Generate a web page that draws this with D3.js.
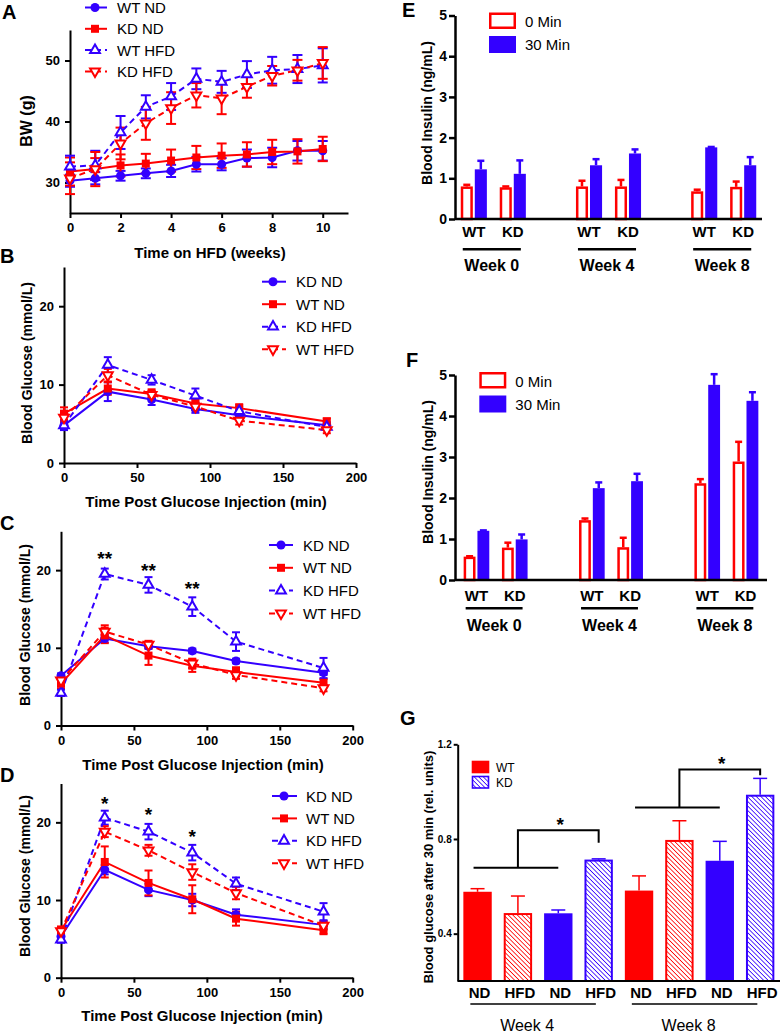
<!DOCTYPE html>
<html><head><meta charset="utf-8">
<script src="https://cdn.jsdelivr.net/npm/d3@7"></script>
<style>
body{margin:0;background:#fff;}
text{font-family:Arial,"Liberation Sans",Helvetica,sans-serif;}
</style></head><body>
<svg id="fig" width="782" height="1033" xmlns="http://www.w3.org/2000/svg"></svg>
<script>
// ---------------- DATA ----------------
// Panel A: body weight (g) vs weeks on HFD
const weeksA = [0,1,2,3,4,5,6,7,8,9,10];
const aWTND     = [30.3,30.7,31.1,31.5,31.9,33.0,33.0,34.0,34.1,35.2,35.2];
const aWTNDErr  = [1.0,1.0,0.8,0.8,1.0,1.2,1.0,1.4,1.6,1.6,1.6];
const aKDND     = [31.8,32.2,32.8,33.1,33.6,34.1,34.4,34.6,35.0,35.1,35.5];
const aKDNDErr  = [2.3,1.8,1.8,1.6,1.8,1.9,2.0,2.0,2.0,2.0,2.0];
const aWTHFD    = [32.6,32.8,38.2,42.4,44.1,47.0,46.5,47.7,48.4,48.6,49.2];
const aWTHFDErr = [1.8,2.4,2.7,1.9,2.2,1.7,1.8,2.2,2.2,2.3,2.8];
const aKDHFD    = [30.7,32.2,36.4,39.7,42.2,44.3,43.8,45.7,47.5,48.4,49.6];
const aKDHFDErr = [2.6,2.8,2.6,2.7,2.6,2.0,2.6,1.8,1.6,1.7,2.6];
const aXTicks = [0,2,4,6,8,10];
const aYTicks = [30,40,50];

// Panels B-D: GTT, blood glucose (mmol/L)
const gttTimes = [0,30,60,90,120,180];
const gttXTicks = [0,50,100,150,200];
const gttYTicks = [0,10,20];

const bKDND = [4.8,9.1,8.1,6.9,6.1,4.8],   bKDNDErr = [0.6,1.2,0.7,0.5,0.6,0.4];
const bWTND = [6.3,9.5,8.8,7.6,7.0,5.3],   bWTNDErr = [0.8,0.8,0.6,0.5,0.5,0.4];
const bKDHFD = [4.8,12.5,10.6,8.6,6.6,4.6], bKDHFDErr = [0.5,1.0,0.6,0.9,0.6,0.4];
const bWTHFD = [5.8,11.2,8.7,7.2,5.4,4.2],  bWTHFDErr = [0.6,0.8,0.5,0.5,0.5,0.4];

const cKDND = [6.4,11.2,10.2,9.6,8.3,6.8],   cKDNDErr = [0.3,0.5,0.3,0.3,0.3,0.3];
const cWTND = [5.4,11.6,9.0,7.7,6.9,5.5],    cWTNDErr = [0.6,1.0,1.2,0.8,0.6,0.5];
const cKDHFD = [4.2,19.5,18.1,15.3,10.8,7.4], cKDHFDErr = [0.4,0.7,1.0,1.2,1.2,1.3];
const cWTHFD = [5.8,12.1,10.4,8.0,6.5,4.8],  cWTHFDErr = [0.5,0.8,0.5,0.6,0.5,0.4];
const cStarTimes = [30,60,90], cStarLevels = [21.9,20.4,18.1], cStarLabel = "**";

const dKDND = [5.3,13.9,11.3,10.0,8.1,6.8],   dKDNDErr = [0.4,0.6,0.8,0.8,0.7,0.5];
const dWTND = [6.1,14.9,12.2,10.1,7.6,6.1],   dWTNDErr = [0.5,2.0,1.6,1.8,0.9,0.5];
const dKDHFD = [4.9,20.6,18.8,16.1,12.1,8.5], dKDHFDErr = [0.4,0.9,1.0,1.0,0.8,1.1];
const dWTHFD = [6.0,18.8,16.4,13.6,10.9,6.7], dWTHFDErr = [0.4,0.7,0.7,1.0,0.8,0.5];
const dStarTimes = [30,60,90], dStarLevels = [22.9,21.4,18.6], dStarLabel = "*";

// Panels E-F: blood insulin (ng/mL)
const insWeeks = ["Week 0","Week 4","Week 8"];
const insGenos = ["WT","KD"];
const insTimes = ["0 Min","30 Min"];
const insYTicks = [0,1,2,3,4,5];
// order: wk0 WT, wk0 KD, wk4 WT, wk4 KD, wk8 WT, wk8 KD
const e0Min = [0.80,0.78,0.80,0.80,0.68,0.79], e0MinErr = [0.04,0.02,0.14,0.16,0.04,0.13];
const e30Min = [1.22,1.11,1.32,1.61,1.76,1.32], e30MinErr = [0.21,0.33,0.15,0.10,0.01,0.20];
const f0Min = [0.57,0.79,1.46,0.80,2.36,2.89], f0MinErr = [0.01,0.12,0.04,0.23,0.10,0.48];
const f30Min = [1.20,0.99,2.24,2.41,4.76,4.37], f30MinErr = [0.01,0.12,0.14,0.18,0.26,0.21];

// Panel G: blood glucose after 30 min (rel. units)
const gWeeks = ["Week 4","Week 8"];
const gDiets = ["ND","HFD","ND","HFD","ND","HFD","ND","HFD"];
const gGenos = ["WT","WT","KD","KD","WT","WT","KD","KD"];
const gValues = [0.577,0.487,0.486,0.713,0.582,0.796,0.708,0.987];
const gErr = [0.013,0.072,0.014,0.003,0.062,0.081,0.082,0.069];
const gYTicks = [0.4,0.8,1.2];
// brackets: [from bar, to bar, target bar, low level, high level, drop level]
const gBrackets = [[0,2,3,0.678,0.837,0.784],[4,6,7,0.933,1.094,1.069]];

// ---------------- DRAWING ----------------
const BLUE = "#3300ff", RED = "#ff0000";
const svg = d3.select("#fig");

const defs = svg.append("defs");
function hatch(id, color) {
  const p = defs.append("pattern").attr("id", id).attr("patternUnits","userSpaceOnUse")
    .attr("width", 3.2).attr("height", 3.2).attr("patternTransform","rotate(-45)");
  p.append("rect").attr("width",3.2).attr("height",3.2).attr("fill","#fff");
  p.append("line").attr("x1",0).attr("y1",0).attr("x2",0).attr("y2",3.2)
    .attr("stroke", color).attr("stroke-width",1.6);
}
hatch("hatchRed", RED);
hatch("hatchBlue", BLUE);

function styleAxis(g, sw, fs) {
  g.select(".domain").attr("stroke","#000").attr("stroke-width",sw);
  g.selectAll(".tick line").attr("stroke","#000").attr("stroke-width",sw);
  g.selectAll(".tick text").attr("font-weight","bold").attr("font-size",fs).attr("fill","#000")
    .attr("font-family","Arial, 'Liberation Sans', Helvetica, sans-serif");
}
function label(txt, x, y, opt={}) {
  const t = svg.append("text").attr("x",x).attr("y",y).text(txt)
    .attr("font-size", opt.size||14).attr("font-weight", opt.weight||"bold")
    .attr("text-anchor", opt.anchor||"middle").attr("fill","#000");
  if (opt.rotate) t.attr("transform",`rotate(-90,${x},${y})`);
  if (opt.baseline) t.attr("dominant-baseline", opt.baseline);
  return t;
}
function markerPath(type) {
  if (type==="circle") return d3.symbol(d3.symbolCircle, 64)();
  if (type==="square") return d3.symbol(d3.symbolSquare, 64)();
  return d3.symbol(d3.symbolTriangle, 42)();
}
function drawMarker(g, type, color, x, y) {
  const open = (type==="tri" || type==="itri");
  g.append("path").attr("d", markerPath(type))
    .attr("transform", `translate(${x},${y})` + (type==="itri" ? " rotate(180)" : ""))
    .attr("fill", open ? "#fff" : color).attr("stroke", color).attr("stroke-width", open?2:0);
}

function linePanel(p) {
  const x = d3.scaleLinear().domain(p.xDomain).range(p.xRange);
  const y = d3.scaleLinear().domain(p.yDomain).range(p.yRange);
  const g = svg.append("g");
  const gx = g.append("g").attr("transform",`translate(0,${p.yRange[0]})`)
    .call(d3.axisBottom(x).tickValues(p.xTicks).tickSize(5).tickSizeOuter(0).tickPadding(5));
  styleAxis(gx, 2, 13);
  const gy = g.append("g").attr("transform",`translate(${p.xRange[0]},0)`)
    .call(d3.axisLeft(y).tickValues(p.yTicks).tickSize(5).tickSizeOuter(0).tickPadding(5));
  styleAxis(gy, 2, 13);

  const cap = p.cap || 5;
  p.series.forEach(s => {
    s.vals.forEach((v,i) => {
      const e = s.errs[i], cx = x(p.xs[i]);
      g.append("line").attr("x1",cx).attr("x2",cx).attr("y1",y(v-e)).attr("y2",y(v+e))
        .attr("stroke",s.color).attr("stroke-width",2);
      [v-e, v+e].forEach(w => g.append("line").attr("x1",cx-cap).attr("x2",cx+cap)
        .attr("y1",y(w)).attr("y2",y(w)).attr("stroke",s.color).attr("stroke-width",2));
    });
  });
  p.series.forEach(s => {
    const line = d3.line().x((d,i)=>x(p.xs[i])).y(d=>y(d));
    g.append("path").attr("d", line(s.vals)).attr("fill","none").attr("stroke",s.color)
      .attr("stroke-width",2).attr("stroke-dasharray", s.dash ? "6,4" : null);
  });
  p.series.forEach(s => {
    s.vals.forEach((v,i) => drawMarker(g, s.marker, s.color, x(p.xs[i]), y(v)));
  });
  // legend
  p.series.forEach((s,i) => {
    const ly = p.legend.y0 + i*p.legend.dy;
    g.append("line").attr("x1",p.legend.x1).attr("x2",p.legend.x2).attr("y1",ly).attr("y2",ly)
      .attr("stroke",s.color).attr("stroke-width",2).attr("stroke-dasharray", s.dash ? "6,4" : null);
    drawMarker(g, s.marker, s.color, p.legend.xm, ly);
    g.append("text").attr("x",p.legend.xt).attr("y",ly).attr("dominant-baseline","central")
      .attr("font-size",15).attr("fill","#000").text(s.name);
  });
  if (p.stars) {
    p.stars.times.forEach((t,i) => {
      g.append("text").attr("x",x(t)).attr("y",y(p.stars.levels[i])+10).attr("text-anchor","middle")
        .attr("font-size",19).attr("font-weight","bold").text(p.stars.label);
    });
  }
  label(p.xTitle, p.xTitlePos[0], p.xTitlePos[1], {size:15});
  label(p.yTitle, p.yTitlePos[0], p.yTitlePos[1], {size:p.yTitleSize||14, rotate:true, baseline:"central"});
}

// Panel A
linePanel({
  xDomain:[0,11], xRange:[70,348], yDomain:[25,55], yRange:[213,30],
  xTicks:aXTicks, yTicks:aYTicks, xs:weeksA, cap:5,
  series:[
    {name:"WT ND", vals:aWTND, errs:aWTNDErr, color:BLUE, marker:"circle", dash:false},
    {name:"KD ND", vals:aKDND, errs:aKDNDErr, color:RED, marker:"square", dash:false},
    {name:"WT HFD", vals:aWTHFD, errs:aWTHFDErr, color:BLUE, marker:"tri", dash:true},
    {name:"KD HFD", vals:aKDHFD, errs:aKDHFDErr, color:RED, marker:"itri", dash:true}
  ],
  legend:{x1:85, x2:107, xm:95, xt:117, y0:7.5, dy:21.3},
  xTitle:"Time on HFD (weeks)", xTitlePos:[210,258],
  yTitle:"BW (g)", yTitlePos:[26,121], yTitleSize:16
});

function gttSeries(kdnd,kdndE,wtnd,wtndE,kdhfd,kdhfdE,wthfd,wthfdE){
  return [
    {name:"KD ND", vals:kdnd, errs:kdndE, color:BLUE, marker:"circle", dash:false},
    {name:"WT ND", vals:wtnd, errs:wtndE, color:RED, marker:"square", dash:false},
    {name:"KD HFD", vals:kdhfd, errs:kdhfdE, color:BLUE, marker:"tri", dash:true},
    {name:"WT HFD", vals:wthfd, errs:wthfdE, color:RED, marker:"itri", dash:true}
  ];
}
// Panel B
linePanel({
  xDomain:[0,200], xRange:[64,356], yDomain:[0,25], yRange:[463,267],
  xTicks:gttXTicks, yTicks:gttYTicks, xs:gttTimes, cap:4,
  series:gttSeries(bKDND,bKDNDErr,bWTND,bWTNDErr,bKDHFD,bKDHFDErr,bWTHFD,bWTHFDErr),
  legend:{x1:262, x2:286, xm:273, xt:296, y0:281.7, dy:22.5},
  xTitle:"Time Post Glucose Injection (min)", xTitlePos:[206,507],
  yTitle:"Blood Glucose (mmol/L)", yTitlePos:[27,363]
});
// Panel C
linePanel({
  xDomain:[0,200], xRange:[61,352.7], yDomain:[0,25], yRange:[725.5,531.3],
  xTicks:gttXTicks, yTicks:gttYTicks, xs:gttTimes, cap:4,
  series:gttSeries(cKDND,cKDNDErr,cWTND,cWTNDErr,cKDHFD,cKDHFDErr,cWTHFD,cWTHFDErr),
  legend:{x1:269, x2:293, xm:281, xt:303, y0:545, dy:22.8},
  stars:{times:cStarTimes, levels:cStarLevels, label:cStarLabel},
  xTitle:"Time Post Glucose Injection (min)", xTitlePos:[203,770],
  yTitle:"Blood Glucose (mmol/L)", yTitlePos:[25,625]
});
// Panel D
linePanel({
  xDomain:[0,200], xRange:[61,352.7], yDomain:[0,25], yRange:[977.7,783.5],
  xTicks:gttXTicks, yTicks:gttYTicks, xs:gttTimes, cap:4,
  series:gttSeries(dKDND,dKDNDErr,dWTND,dWTNDErr,dKDHFD,dKDHFDErr,dWTHFD,dWTHFDErr),
  legend:{x1:272, x2:297, xm:284, xt:306, y0:796, dy:22.4},
  stars:{times:dStarTimes, levels:dStarLevels, label:dStarLabel},
  xTitle:"Time Post Glucose Injection (min)", xTitlePos:[202,1021],
  yTitle:"Blood Glucose (mmol/L)", yTitlePos:[25,876]
});

// Insulin panels
function insulinPanel(p) {
  const xw = d3.scaleBand().domain(insWeeks).range(p.xRange).paddingInner(p.pin).paddingOuter(p.pout);
  const xg = d3.scaleBand().domain(insGenos).range([0, xw.bandwidth()]).paddingInner(0.33).paddingOuter(0);
  const xt = d3.scaleBand().domain(insTimes).range([0, xg.bandwidth()]).paddingInner(0.14).paddingOuter(0);
  const y = d3.scaleLinear().domain([0,5]).range(p.yRange);
  const g = svg.append("g");
  const rows = [];
  insWeeks.forEach((w,wi) => insGenos.forEach((gn,gi) => {
    const k = wi*2+gi;
    rows.push({w, gn, t:insTimes[0], v:p.v0[k], e:p.e0[k]});
    rows.push({w, gn, t:insTimes[1], v:p.v30[k], e:p.e30[k]});
  }));
  const bx = d => xw(d.w) + xg(d.gn) + xt(d.t);
  const bw = xt.bandwidth();
  rows.forEach(d => {
    const col = d.t===insTimes[0] ? RED : BLUE;
    const cx = bx(d) + bw/2;
    g.append("line").attr("x1",cx).attr("x2",cx).attr("y1",y(d.v)).attr("y2",y(d.v+d.e))
      .attr("stroke",col).attr("stroke-width",2.5);
    g.append("line").attr("x1",cx-3.5).attr("x2",cx+3.5).attr("y1",y(d.v+d.e)).attr("y2",y(d.v+d.e))
      .attr("stroke",col).attr("stroke-width",2.5);
    if (d.t===insTimes[0]) {
      g.append("rect").attr("x",bx(d)+1.25).attr("y",y(d.v)+1.25).attr("width",bw-2.5)
        .attr("height",Math.max(0,y(0)-y(d.v)-1.25)).attr("fill","#fff").attr("stroke",RED).attr("stroke-width",2.5);
    } else {
      g.append("rect").attr("x",bx(d)).attr("y",y(d.v)).attr("width",bw)
        .attr("height",y(0)-y(d.v)).attr("fill",BLUE);
    }
  });
  const gy = g.append("g").attr("transform",`translate(${p.xRange[0]},0)`)
    .call(d3.axisLeft(y).tickValues(insYTicks).tickFormat(d3.format("d")).tickSize(6).tickSizeOuter(0).tickPadding(2));
  styleAxis(gy, 2.5, 14);
  g.append("line").attr("x1",p.xRange[0]).attr("x2",p.xRange[1]).attr("y1",y(0)).attr("y2",y(0))
    .attr("stroke","#000").attr("stroke-width",2.5);
  insWeeks.forEach(w => {
    insGenos.forEach(gn => {
      label(gn, xw(w)+xg(gn)+xg.bandwidth()/2, p.genoY, {size:15});
    });
    const l0 = xw(w)+2, l1 = xw(w)+xw.bandwidth()-5;
    g.append("line").attr("x1",l0).attr("x2",l1).attr("y1",p.lineY).attr("y2",p.lineY)
      .attr("stroke","#000").attr("stroke-width",2.5);
    label(w, (l0+l1)/2, p.weekY, {size:16});
  });
  // legend
  g.append("rect").attr("x",p.leg[0]+1.25).attr("y",p.leg[1]+1.25).attr("width",24.5).attr("height",14)
    .attr("fill","#fff").attr("stroke",RED).attr("stroke-width",2.5);
  g.append("rect").attr("x",p.leg[0]).attr("y",p.leg[1]+23.5).attr("width",27).attr("height",17).attr("fill",BLUE);
  label(insTimes[0], p.leg[0]+36, p.leg[1]+9, {size:15, weight:"normal", anchor:"start", baseline:"central"});
  label(insTimes[1], p.leg[0]+36, p.leg[1]+32, {size:15, weight:"normal", anchor:"start", baseline:"central"});
  label("Blood Insulin (ng/mL)", p.yTitle[0], p.yTitle[1], {size:14, rotate:true, baseline:"central"});
}
insulinPanel({xRange:[455,762], yRange:[219,15.5], pin:0.435, pout:0.05,
  v0:e0Min, e0:e0MinErr, v30:e30Min, e30:e30MinErr,
  genoY:237, lineY:249.3, weekY:271, leg:[489,12.5], yTitle:[427,113]});
insulinPanel({xRange:[455,767], yRange:[580,375], pin:0.446, pout:0.075,
  v0:f0Min, e0:f0MinErr, v30:f30Min, e30:f30MinErr,
  genoY:601, lineY:608.3, weekY:631, leg:[479.3,372], yTitle:[428,472]});

// Panel G
(function(){
  const idx = d3.range(gValues.length);
  const x = d3.scaleBand().domain(idx).range([457.7,780]).paddingInner(0.297).paddingOuter(0.14);
  const y = d3.scaleLinear().domain([0.2,1.2]).range([981,744.3]);
  const g = svg.append("g");
  const bw = x.bandwidth();
  idx.forEach(i => {
    const col = gGenos[i]==="WT" ? RED : BLUE;
    const hatched = gDiets[i]==="HFD";
    const cx = x(i)+bw/2;
    g.append("line").attr("x1",cx).attr("x2",cx).attr("y1",y(gValues[i])).attr("y2",y(gValues[i]+gErr[i]))
      .attr("stroke",col).attr("stroke-width",1.5);
    g.append("line").attr("x1",cx-7).attr("x2",cx+7).attr("y1",y(gValues[i]+gErr[i])).attr("y2",y(gValues[i]+gErr[i]))
      .attr("stroke",col).attr("stroke-width",1.5);
    if (hatched) {
      g.append("rect").attr("x",x(i)+1).attr("y",y(gValues[i])+1).attr("width",bw-2)
        .attr("height",y(0.2)-y(gValues[i])-1)
        .attr("fill", col===RED ? "url(#hatchRed)" : "url(#hatchBlue)").attr("stroke",col).attr("stroke-width",2);
    } else {
      g.append("rect").attr("x",x(i)).attr("y",y(gValues[i])).attr("width",bw)
        .attr("height",y(0.2)-y(gValues[i])).attr("fill",col);
    }
    label(gDiets[i], cx+2, 998, {size:15});
  });
  const gy = g.append("g").attr("transform","translate(457.7,0)")
    .call(d3.axisLeft(y).tickValues(gYTicks).tickFormat(d3.format(".1f")).tickSize(4).tickSizeOuter(0).tickPadding(2));
  styleAxis(gy, 2, 10);
  g.append("line").attr("x1",457.7).attr("x2",780).attr("y1",y(0.2)).attr("y2",y(0.2))
    .attr("stroke","#000").attr("stroke-width",2);
  // brackets
  gBrackets.forEach(b => {
    const xa = x(b[0])+bw/2-4, xb = x(b[1])+bw/2, xm = (x(b[0])+x(b[1]))/2+bw/2, xc = x(b[2])+bw/2;
    g.append("line").attr("x1",xa).attr("x2",xb).attr("y1",y(b[3])).attr("y2",y(b[3])).attr("stroke","#000").attr("stroke-width",2);
    g.append("path").attr("d",`M${xm},${y(b[3])}V${y(b[4])}H${xc}V${y(b[5])}`)
      .attr("fill","none").attr("stroke","#000").attr("stroke-width",2);
    label("*", (xm+xc)/2+2, y(b[4])+1, {size:19});
  });
  // week labels
  gWeeks.forEach((w,wi) => {
    const l0 = x(wi*4)+7, l1 = x(wi*4+3)+bw-17;
    g.append("line").attr("x1",l0).attr("x2",l1).attr("y1",1004).attr("y2",1004)
      .attr("stroke","#000").attr("stroke-width",1.5);
    label(w, (l0+l1)/2-6, 1031, {size:16, weight:"normal"});
  });
  // legend
  g.append("rect").attr("x",471.7).attr("y",760.7).attr("width",17.6).attr("height",12.6).attr("fill",RED);
  g.append("rect").attr("x",472.5).attr("y",776.5).attr("width",16).attr("height",11.5)
    .attr("fill","url(#hatchBlue)").attr("stroke",BLUE).attr("stroke-width",1.6);
  label("WT", 496, 767.5, {size:12, weight:"normal", anchor:"start", baseline:"central"});
  label("KD", 496, 782.5, {size:12, weight:"normal", anchor:"start", baseline:"central"});
  label("Blood glucose after 30 min (rel. units)", 428, 867, {size:13, rotate:true, baseline:"central"});
})();

// Panel letters
[["A",2,19],["B",0,263],["C",0,530],["D",0,782],["E",402,17],["F",406,367],["G",400,725]]
  .forEach(d => label(d[0], d[1], d[2], {size:20, anchor:"start"}));
</script>
</body></html>
